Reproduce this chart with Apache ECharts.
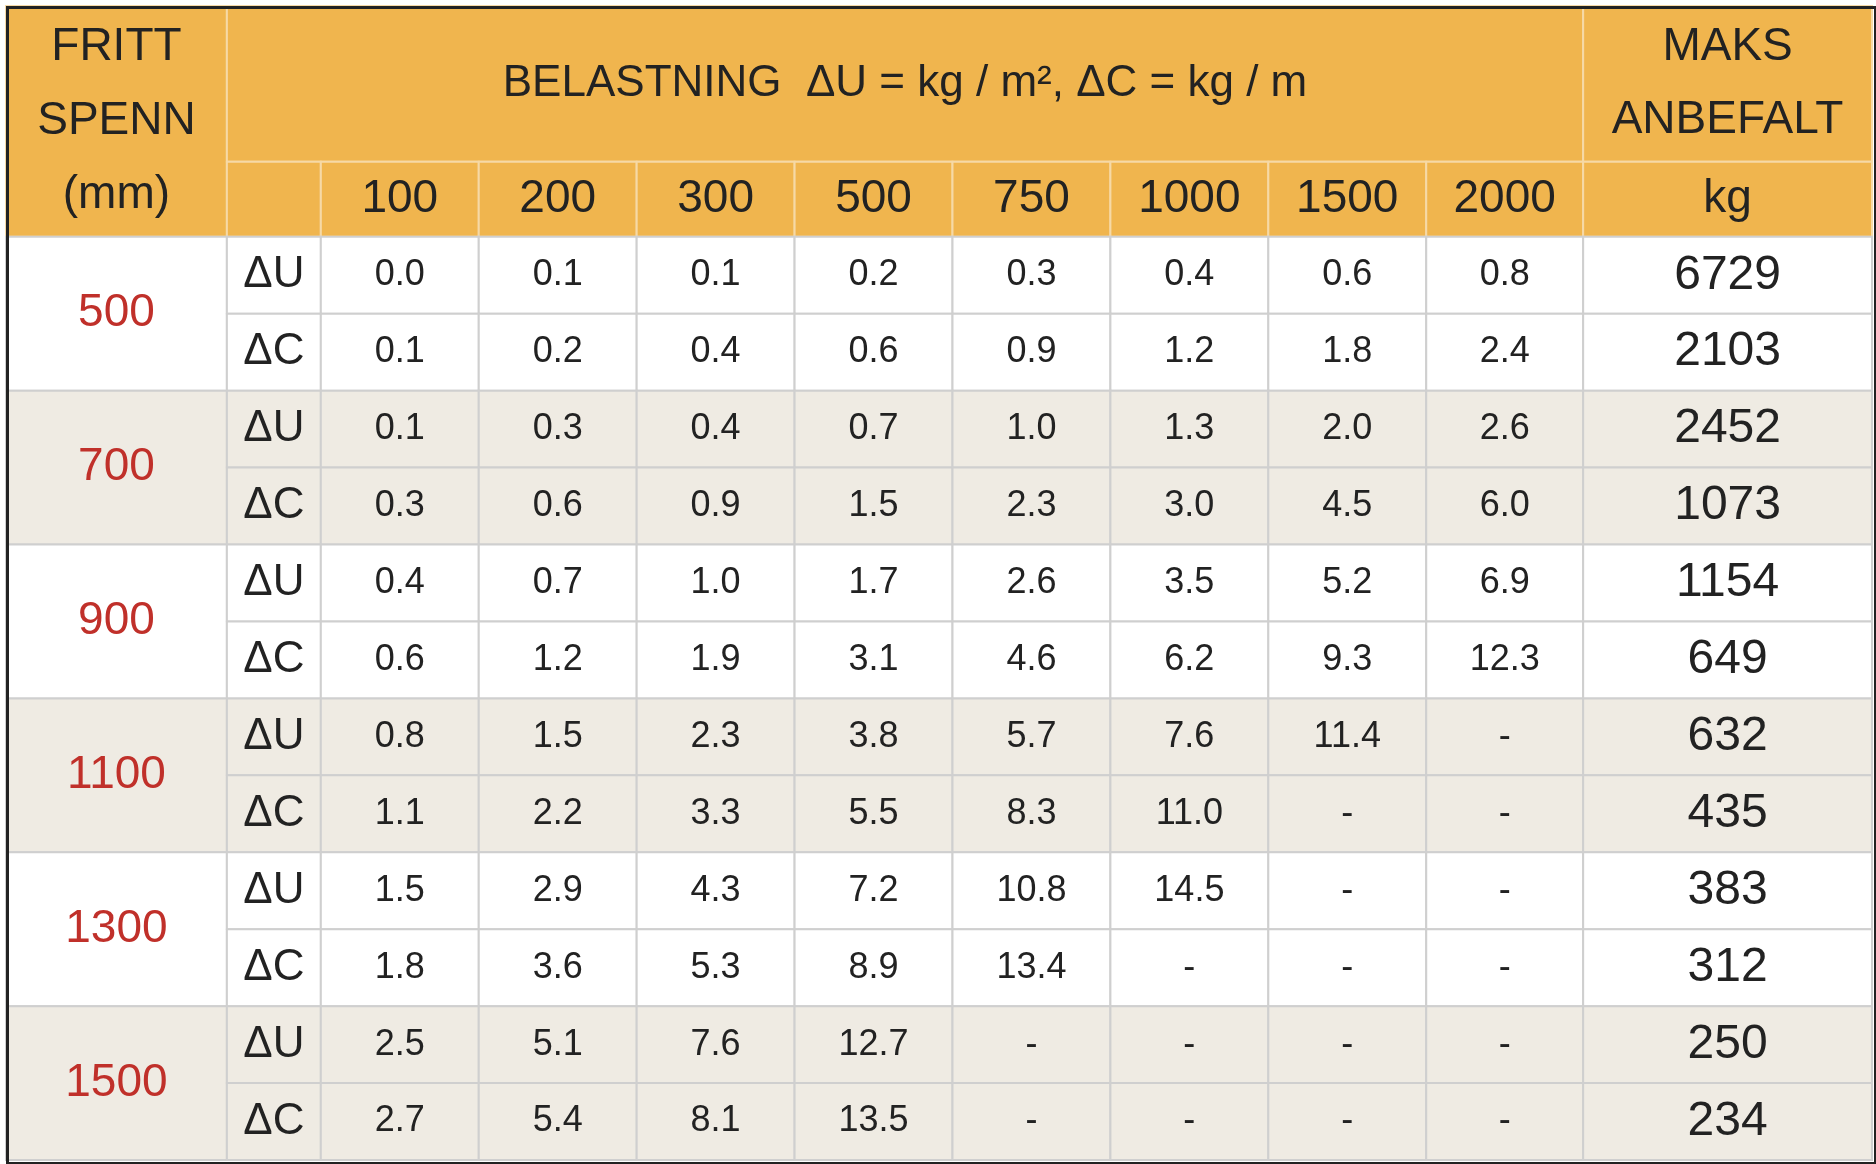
<!DOCTYPE html>
<html><head><meta charset="utf-8">
<script src="https://cdn.jsdelivr.net/npm/echarts@6/dist/echarts.min.js"></script>
<style>html,body{margin:0;background:#fff}#c{width:1876px;height:1164px}</style>
</head><body><div id="c"></div>
<script>
// ---- data ----
const headerTitle = "BELASTNING  ΔU = kg / m², ΔC = kg / m";
const loads = ["100","200","300","500","750","1000","1500","2000"];
const spans = ["500","700","900","1100","1300","1500"];
const kinds = ["ΔU","ΔC"];
const values = [
 ["0.0","0.1","0.1","0.2","0.3","0.4","0.6","0.8"],
 ["0.1","0.2","0.4","0.6","0.9","1.2","1.8","2.4"],
 ["0.1","0.3","0.4","0.7","1.0","1.3","2.0","2.6"],
 ["0.3","0.6","0.9","1.5","2.3","3.0","4.5","6.0"],
 ["0.4","0.7","1.0","1.7","2.6","3.5","5.2","6.9"],
 ["0.6","1.2","1.9","3.1","4.6","6.2","9.3","12.3"],
 ["0.8","1.5","2.3","3.8","5.7","7.6","11.4","-"],
 ["1.1","2.2","3.3","5.5","8.3","11.0","-","-"],
 ["1.5","2.9","4.3","7.2","10.8","14.5","-","-"],
 ["1.8","3.6","5.3","8.9","13.4","-","-","-"],
 ["2.5","5.1","7.6","12.7","-","-","-","-"],
 ["2.7","5.4","8.1","13.5","-","-","-","-"]
];
const maxKg = ["6729","2103","2452","1073","1154","649","632","435","383","312","250","234"];

// ---- layout (column / row edges in grid units) ----
const colW = [221,94,158,158,158,158,158,158,158,157,289];
const rowH = [156,75].concat(Array(12).fill(77));
const cx=[0]; colW.forEach(w=>cx.push(cx[cx.length-1]+w));
const ry=[0]; rowH.forEach(h=>ry.push(ry[ry.length-1]+h));
const ORANGE="#F0B54E", SHADE="#EFEBE3";

const cells=[]; // [c0,c1,r0,r1,text,style]
cells.push([0,1,0,2,"FRITT\nSPENN\n(mm)","h"]);
cells.push([1,10,0,1,headerTitle,"h"]);
cells.push([10,11,0,1,"MAKS\nANBEFALT","h"]);
cells.push([1,2,1,2,"","h"]);
loads.forEach((l,i)=>cells.push([2+i,3+i,1,2,l,"h"]));
cells.push([10,11,1,2,"kg","h"]);
spans.forEach((s,g)=>{
  const bg = g%2? "s":"w";
  cells.push([0,1,2+2*g,4+2*g,s,"red"+bg]);
  kinds.forEach((k,j)=>{
    const r=2+2*g+j;
    cells.push([1,2,r,r+1,k,"k"+bg]);
    values[2*g+j].forEach((v,i)=>cells.push([2+i,3+i,r,r+1,v,"v"+bg]));
    cells.push([10,11,r,r+1,maxKg[2*g+j],"m"+bg]);
  });
});

const chart=echarts.init(document.getElementById('c'));
chart.setOption({
  animation:false,
  grid:{left:6,top:6,right:4,bottom:4},
  xAxis:{type:'value',min:0,max:cx[cx.length-1],show:false},
  yAxis:{type:'value',min:0,max:ry[ry.length-1],inverse:true,show:false},
  series:[{
    type:'custom',
    data:cells.map(c=>[cx[c[0]],ry[c[2]],cx[c[1]],ry[c[3]],c[4],c[5]]),
    renderItem:(p,api)=>{
      const a=api.coord([api.value(0),api.value(1)]);
      const b=api.coord([api.value(2),api.value(3)]);
      const st=String(api.value(5)), txt=String(api.value(4));
      const isH=st==="h";
      const fill=isH?ORANGE:(st.endsWith("s")?SHADE:"#fff");
      let size=36,color="#222";
      if(isH) size=st && txt.length>20?44:46;
      if(st.startsWith("red")){size=46;color="#C0302A";}
      if(st.startsWith("k")) size=44;
      if(st.startsWith("m")) size=48;
      return {type:'group',children:[
        {type:'rect',shape:{x:a[0],y:a[1],width:b[0]-a[0],height:b[1]-a[1]},
         style:{fill:fill,stroke:isH?"#F6D9A6":"#CFCFCF",lineWidth:2}},
        {type:'text',style:{x:(a[0]+b[0])/2,y:(a[1]+b[1])/2,text:txt,align:'center',verticalAlign:'middle',
          fill:color,font:`${size}px "Liberation Sans", Arial, sans-serif`,lineHeight:isH?size*1.6:size}}
      ]};
    }
  }],
  graphic:[{type:'rect',left:5,top:5,shape:{width:1868,height:1156},style:{fill:'none',stroke:'#222',lineWidth:3},z:100}]
});
</script></body></html>
